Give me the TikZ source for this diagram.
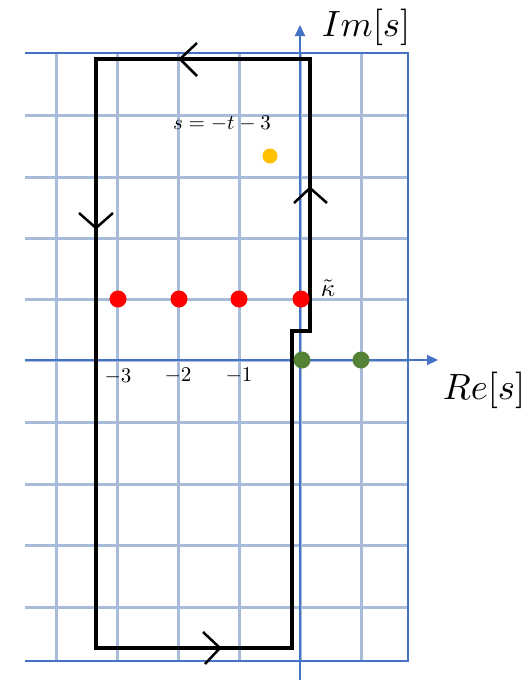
\documentclass[tikz,border=0pt]{standalone}
\usetikzlibrary{arrows.meta}
\definecolor{gridc}{HTML}{A8BBD8}
\definecolor{axisc}{HTML}{4472C4}
\definecolor{redc}{HTML}{FF0000}
\definecolor{greenc}{HTML}{548235}
\definecolor{orangec}{HTML}{FFC000}
\tikzset{
  gridline/.style={draw=gridc, line width=3pt},
  borderline/.style={draw=axisc, line width=1.8pt},
  axisline/.style={draw=axisc, line width=2pt, -{Triangle[length=11pt,width=10pt]}},
  contour/.style={draw=black, line width=3.3pt, line join=miter},
  chevron/.style={draw=black, line width=2.5pt},
  dot/.style={circle, inner sep=0pt, minimum size=17pt},
  biglbl/.style={inner sep=0pt, scale=3.65},
  ticklbl/.style={inner sep=0pt, scale=2.1}
}
\begin{document}
\begin{tikzpicture}[x=1pt,y=-1pt]
\useasboundingbox (0,0) rectangle (528,680);
% grid
\foreach \yy in {115,177,238,299,360,422,484,545,607}
  \draw[gridline] (25,\yy) -- (408,\yy);
\foreach \xx in {56,117,178,239,300,361}
  \draw[gridline] (\xx,53) -- (\xx,661);
% border (top, right, bottom)
\draw[borderline] (25,53) -- (408,53) -- (408,661) -- (25,661);
% axes
\coordinate (xs) at (25,360);
\coordinate (xe) at (438,360);
\coordinate (ys) at (300,680);
\coordinate (ye) at (300,25);
\draw[axisline] (xs) -- (xe);
\draw[axisline] (ys) -- (ye);
\node[biglbl] (im) at (366,27) {$Im[s]$};
\node[biglbl] (re) at (484,390) {$Re[s]$};
% contour
\coordinate (c1) at (96,59);
\coordinate (c2) at (310,59);
\coordinate (c3) at (310,331);
\coordinate (c4) at (292,331);
\coordinate (c5) at (292,648);
\coordinate (c6) at (96,648);
\draw[contour] (c1) -- (c2) -- (c3) -- (c4) -- (c5) -- (c6) -- cycle;
% chevrons
\draw[chevron] (197,43) -- (180,59) -- (197,76);
\draw[chevron] (203,632) -- (220,648) -- (205,664);
\draw[chevron] (79,213) -- (96,228) -- (113,213);
\draw[chevron] (294,203) -- (310,188) -- (327,203);
% dots
\node[dot, fill=redc] (r3) at (118,299) {};
\node[dot, fill=redc] (r2) at (179,299) {};
\node[dot, fill=redc] (r1) at (239,299) {};
\node[dot, fill=redc] (r0) at (301,299) {};
\node[dot, fill=greenc] (g0) at (302,360) {};
\node[dot, fill=greenc] (g1) at (361,360) {};
\node[dot, fill=orangec, minimum size=15pt] (o) at (270,156) {};
% labels
\node[ticklbl] (t3) at (118,377) {$-3$};
\node[ticklbl] (t2) at (178,376) {$-2$};
\node[ticklbl] (t1) at (239,376) {$-1$};
\node[inner sep=0pt, scale=2.1] (eq) at (222,124) {$s=-t-3$};
\node[inner sep=0pt, scale=2.5] (kap) at (328,288) {$\tilde{\kappa}$};
\end{tikzpicture}
\end{document}
